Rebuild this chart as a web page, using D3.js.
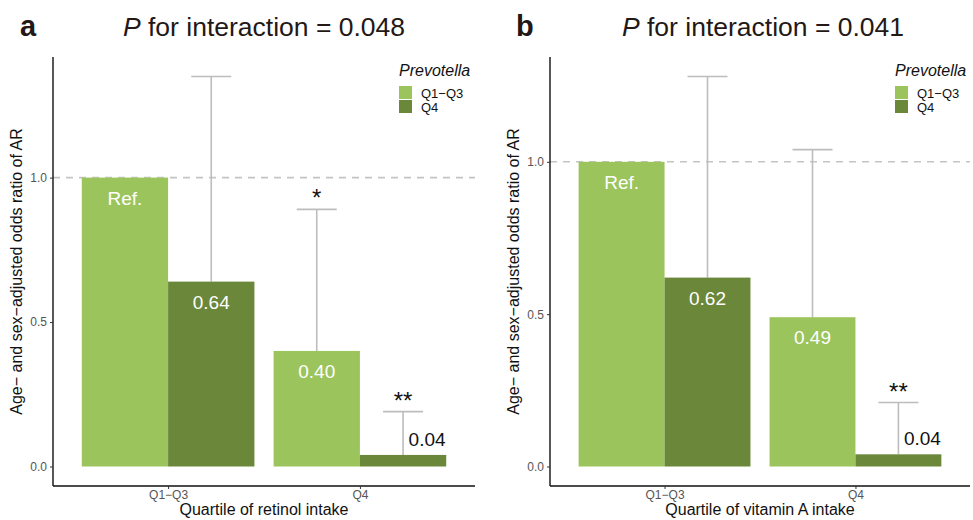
<!DOCTYPE html>
<html>
<head>
<meta charset="utf-8">
<script src="https://cdn.jsdelivr.net/npm/d3@7"></script>
<style>
body { margin: 0; background: #fff; }
text { font-family: "Liberation Sans", Arial, sans-serif; }
</style>
</head>
<body>
<svg id="chart" width="973" height="520"></svg>
<script>
// groups on the x axis and the Prevotella strata (dodged)
const groups = ["Q1\u2212Q3", "Q4"];
const strata = ["Q1\u2212Q3", "Q4"];

// panel a: retinol
const retinolOR = [1.00, 0.64, 0.40, 0.04];
const retinolUpper = [null, 1.35, 0.89, 0.19];
const retinolLabels = ["Ref.", "0.64", "0.40", "0.04"];
const retinolStars = ["", "", "*", "**"];

// panel b: vitamin A
const vitAOR = [1.00, 0.62, 0.49, 0.04];
const vitAUpper = [null, 1.28, 1.04, 0.21];
const vitALabels = ["Ref.", "0.62", "0.49", "0.04"];
const vitAStars = ["", "", "", "**"];

const yTicks = [0, 0.5, 1.0];
const colors = { "Q1\u2212Q3": "#9cc45c", "Q4": "#6b873a" };

const svg = d3.select("#chart");

function panel(opt) {
	const g = svg.append("g");
	// ggplot style discrete expansion: 0.6 of a step on each side
	const xc = d3.scalePoint().domain(groups)
		.range([opt.left, opt.right]).padding(0.6);
	const gw = 0.9 * xc.step();
	const x1 = d3.scaleBand().domain(strata).range([-gw / 2, gw / 2]);

	const maxV = d3.max(opt.upper);
	const pad = maxV * 0.05;
	const y = d3.scaleLinear().domain([-pad, maxV + pad]).range([opt.bottom, opt.top]);

	const rows = [];
	groups.forEach((gr, i) => strata.forEach((s, j) => {
		const k = i * 2 + j;
		rows.push({ group: gr, stratum: s, or: opt.or[k], upper: opt.upper[k], label: opt.labels[k], star: opt.stars[k] });
	}));
	const cx = d => xc(d.group) + x1(d.stratum) + x1.bandwidth() / 2;

	// reference line
	g.append("line")
		.attr("x1", opt.left).attr("x2", opt.right)
		.attr("y1", y(1)).attr("y2", y(1))
		.attr("stroke", "#c4c4c4").attr("stroke-width", 1.6)
		.attr("stroke-dasharray", "7,6");

	// error bars (upper only)
	const eb = rows.filter(d => d.upper != null);
	g.selectAll(".eline").data(eb).join("line")
		.attr("x1", cx).attr("x2", cx)
		.attr("y1", d => y(d.or)).attr("y2", d => y(d.upper))
		.attr("stroke", "#bdbdbd").attr("stroke-width", 1.6);
	g.selectAll(".ecap").data(eb).join("line")
		.attr("x1", d => cx(d) - 20).attr("x2", d => cx(d) + 20)
		.attr("y1", d => y(d.upper)).attr("y2", d => y(d.upper))
		.attr("stroke", "#bdbdbd").attr("stroke-width", 1.6);

	// bars
	g.selectAll(".bar").data(rows).join("rect")
		.attr("x", d => xc(d.group) + x1(d.stratum))
		.attr("width", x1.bandwidth())
		.attr("y", d => y(d.or))
		.attr("height", d => y(0) - y(d.or))
		.attr("fill", d => colors[d.stratum]);

	// value labels
	g.selectAll(".vlab").data(rows).join("text")
		.attr("x", d => d.or < 0.1 ? cx(d) + 24 : cx(d))
		.attr("y", d => d.or < 0.1 ? y(d.or) - 9 : y(d.or) + 27)
		.attr("text-anchor", "middle")
		.attr("font-size", 19)
		.attr("fill", d => d.or < 0.1 ? "#111" : "#fff")
		.text(d => d.label);

	// significance stars
	g.selectAll(".star").data(rows.filter(d => d.star)).join("text")
		.attr("x", cx).attr("y", d => y(d.upper) - 3)
		.attr("text-anchor", "middle")
		.attr("font-size", 24)
		.attr("fill", "#111")
		.text(d => d.star);

	// axes
	const yAxis = g.append("g").attr("transform", `translate(${opt.left},0)`)
		.call(d3.axisLeft(y).tickValues(yTicks).tickFormat(d3.format(".1f")).tickSize(3).tickPadding(3));
	const xAxis = g.append("g").attr("transform", `translate(0,${opt.bottom})`)
		.call(d3.axisBottom(xc).tickSize(3).tickPadding(1));
	[yAxis, xAxis].forEach(a => {
		a.select(".domain").attr("stroke", "#111").attr("stroke-width", 1.4);
		a.selectAll(".tick line").attr("stroke", "#333");
		a.selectAll(".tick text").attr("fill", "#555").attr("font-size", 12)
			.attr("font-family", "Liberation Sans, Arial, sans-serif");
	});
	yAxis.select(".domain").attr("d", `M0,${opt.bottom}V${opt.top}`);
	xAxis.select(".domain").attr("d", `M${opt.left},0H${opt.right}`);

	// axis titles
	g.append("text")
		.attr("transform", `translate(${opt.left - 31},${(opt.top + opt.bottom) / 2}) rotate(-90)`)
		.attr("text-anchor", "middle").attr("font-size", 16).attr("fill", "#111")
		.text("Age\u2212 and sex\u2212adjusted odds ratio of AR");
	g.append("text")
		.attr("x", (opt.left + opt.right) / 2).attr("y", 515)
		.attr("text-anchor", "middle").attr("font-size", 16).attr("fill", "#111")
		.text(opt.xtitle);

	// panel letter and title
	g.append("text").attr("x", opt.letterX).attr("y", 36)
		.attr("font-size", 29).attr("font-weight", "bold").attr("fill", "#231815")
		.text(opt.letter);
	const t = g.append("text").attr("x", opt.titleX).attr("y", 36)
		.attr("text-anchor", "middle").attr("font-size", 26.5).attr("fill", "#231815");
	t.append("tspan").attr("font-style", "italic").text("P");
	t.append("tspan").text(" for interaction = " + opt.p);

	// legend
	const lg = g.append("g").attr("transform", `translate(${opt.legendX},0)`);
	lg.append("text").attr("x", 0).attr("y", 76)
		.attr("font-size", 16).attr("font-style", "italic").attr("fill", "#111").text("Prevotella");
	strata.forEach((s, i) => {
		lg.append("rect").attr("x", 0).attr("y", 86 + i * 14)
			.attr("width", 13).attr("height", 13).attr("fill", colors[s]);
		lg.append("text").attr("x", 22).attr("y", 98 + i * 14)
			.attr("font-size", 13).attr("fill", "#111").text(s);
	});
}

panel({
	left: 53, right: 475, top: 57, bottom: 486,
	or: retinolOR, upper: retinolUpper, labels: retinolLabels, stars: retinolStars,
	xtitle: "Quartile of retinol intake", letter: "a", letterX: 20, titleX: 264, p: "0.048",
	legendX: 399
});
panel({
	left: 550, right: 970, top: 57, bottom: 486,
	or: vitAOR, upper: vitAUpper, labels: vitALabels, stars: vitAStars,
	xtitle: "Quartile of vitamin A intake", letter: "b", letterX: 516, titleX: 763, p: "0.041",
	legendX: 895
});
</script>
</body>
</html>
